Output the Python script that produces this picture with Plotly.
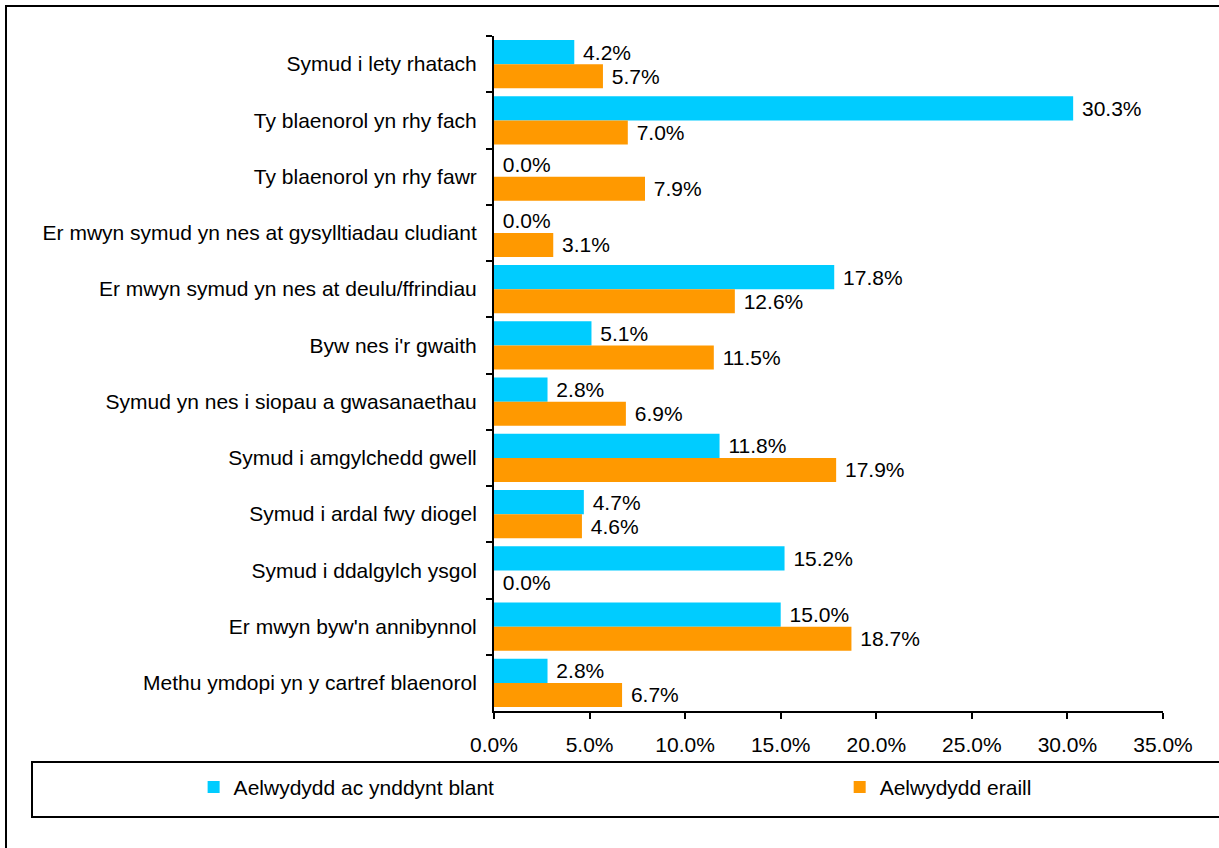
import plotly.graph_objects as go

# Reasons for moving, listed top to bottom
categories = [
    "Symud i lety rhatach",
    "Ty blaenorol yn rhy fach",
    "Ty blaenorol yn rhy fawr",
    "Er mwyn symud yn nes at gysylltiadau cludiant",
    "Er mwyn symud yn nes at deulu/ffrindiau",
    "Byw nes i'r gwaith",
    "Symud yn nes i siopau a gwasanaethau",
    "Symud i amgylchedd gwell",
    "Symud i ardal fwy diogel",
    "Symud i ddalgylch ysgol",
    "Er mwyn byw'n annibynnol",
    "Methu ymdopi yn y cartref blaenorol",
]

# Percentages per household type
with_children = [4.2, 30.3, 0.0, 0.0, 17.8, 5.1, 2.8, 11.8, 4.7, 15.2, 15.0, 2.8]
other_households = [5.7, 7.0, 7.9, 3.1, 12.6, 11.5, 6.9, 17.9, 4.6, 0.0, 18.7, 6.7]

series_names = ["Aelwydydd ac ynddynt blant", "Aelwydydd eraill"]
series_colors = ["#00CCFF", "#FF9900"]
legend_ids = ["legend", "legend2"]

x_ticks = [0, 5, 10, 15, 20, 25, 30, 35]

FONT = "Liberation Sans, Arial, sans-serif"
FS = 21

fig = go.Figure()
for name, vals, col, lg in zip(series_names, [with_children, other_households],
                               series_colors, legend_ids):
    fig.add_trace(go.Bar(
        y=categories,
        x=vals,
        name=name,
        orientation="h",
        legend=lg,
        marker=dict(color=col, line=dict(width=0)),
        text=[f"\u00a0{v:.1f}%" for v in vals],
        textposition="outside",
        textfont=dict(family=FONT, size=FS, color="#000000"),
        cliponaxis=False,
    ))

legend_style = dict(
    orientation="h",
    xanchor="left",
    y=-0.113,
    yanchor="middle",
    font=dict(family=FONT, size=FS, color="#000000"),
    bgcolor="rgba(0,0,0,0)",
    borderwidth=0,
)

fig.update_layout(
    barmode="group",
    bargap=0.143,
    bargroupgap=0,
    width=1219,
    height=848,
    margin=dict(l=494, r=56, t=36, b=137, autoexpand=False),
    paper_bgcolor="white",
    plot_bgcolor="white",
    font=dict(family=FONT, size=FS, color="#000000"),
    showlegend=True,
    legend=dict(x=-0.449, **legend_style),
    legend2=dict(x=0.5167, **legend_style),
    xaxis=dict(
        range=[0, 35],
        tickvals=x_ticks,
        ticktext=[f"{v:.1f}%" for v in x_ticks],
        showgrid=False,
        zeroline=False,
        showline=True,
        linecolor="#000000",
        linewidth=2,
        ticks="outside",
        ticklen=6,
        tickwidth=2,
        tickcolor="#000000",
        ticklabelstandoff=8,
        tickfont=dict(family=FONT, size=FS, color="#000000"),
    ),
    yaxis=dict(
        autorange="reversed",
        showgrid=False,
        zeroline=False,
        showline=True,
        linecolor="#000000",
        linewidth=2,
        ticks="outside",
        tickson="boundaries",
        ticklen=6,
        tickwidth=2,
        tickcolor="#000000",
        ticklabelstandoff=11,
        tickfont=dict(family=FONT, size=FS, color="#000000"),
    ),
    shapes=[
        # outer frame of the chart area
        dict(type="rect", xref="paper", yref="paper",
             x0=(6 - 494) / 669, x1=(1240 - 494) / 669,
             y0=(711 - 870) / 675, y1=(711 - 6) / 675,
             line=dict(color="#000000", width=2), fillcolor="rgba(0,0,0,0)", layer="below"),
        # legend box
        dict(type="rect", xref="paper", yref="paper",
             x0=(32 - 494) / 669, x1=(1240 - 494) / 669,
             y0=(711 - 817) / 675, y1=(711 - 762) / 675,
             line=dict(color="#000000", width=2), fillcolor="rgba(0,0,0,0)", layer="below"),
    ],
)

fig.write_html("out.html")
